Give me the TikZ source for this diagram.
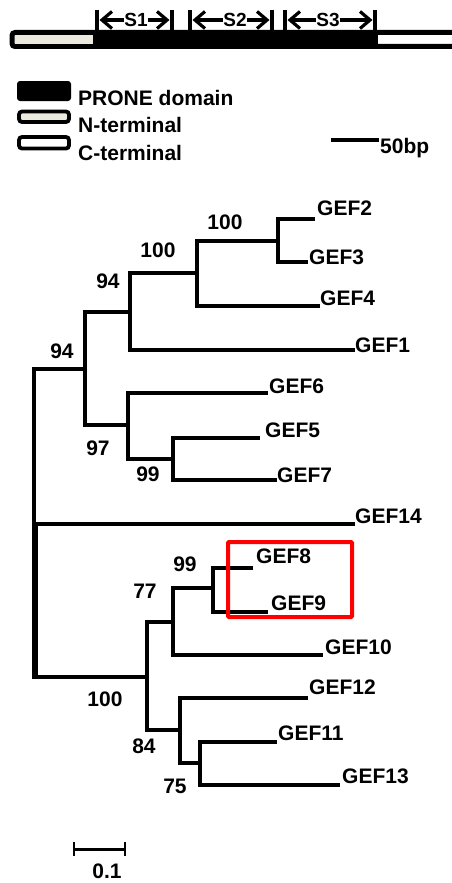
\documentclass[tikz,border=0pt]{standalone}
\usepackage{fontspec}
\setmainfont{Liberation Sans}
\usetikzlibrary{arrows.meta}
\definecolor{beige}{RGB}{236,233,222}
\begin{document}
\begin{tikzpicture}[x=1pt,y=-1pt,
  br/.style={line width=3.8pt},
  lab/.style={font=\fontsize{21}{25}\selectfont\bfseries, anchor=base west, inner sep=0pt},
  boot/.style={font=\fontsize{21}{25}\selectfont\bfseries, anchor=base, inner sep=0pt},
  seglab/.style={font=\fontsize{19}{22}\selectfont\bfseries, inner sep=0pt},
  segarr/.style={line width=3.2pt, -{Straight Barb[length=10pt,width=17pt]}},
  tick/.style={line width=4pt},
  legbox/.style={draw=black, line width=3.8pt, rounded corners=3pt}]
\useasboundingbox (0,0) rectangle (452,883);

% ---------- top domain bar ----------
\draw[line width=5pt, rounded corners=3pt, fill=white] (12,32.5) rectangle (475,46.5);
\fill[beige] (14.5,35) rectangle (93,44);
\fill[black] (93,30) rectangle (378,49);
\foreach \x/\n in {97/a,172/b,190/c,272/d,285/e,375/f}{
  \coordinate (v\n top) at (\x,10);
  \coordinate (v\n bot) at (\x,31);
  \draw[tick] (v\n top) -- (v\n bot);
}
\node[seglab] (S1) at (136,20) {S1};
\node[seglab] (S2) at (235,20) {S2};
\node[seglab] (S3) at (328,20) {S3};
\coordinate (a1l) at (99.5,20); \coordinate (a1r) at (169.5,20);
\coordinate (a2l) at (192.5,20); \coordinate (a2r) at (269.5,20);
\coordinate (a3l) at (287.5,20); \coordinate (a3r) at (372.5,20);
\draw[segarr] (S1.west) -- (a1l); \draw[segarr] (S1.east) -- (a1r);
\draw[segarr] (S2.west) -- (a2l); \draw[segarr] (S2.east) -- (a2r);
\draw[segarr] (S3.west) -- (a3l); \draw[segarr] (S3.east) -- (a3r);

% ---------- legend ----------
\fill[black, rounded corners=3pt] (17,81) rectangle (71,101);
\draw[legbox, fill=beige] (19,111.5) rectangle (69,122);
\draw[legbox, fill=white] (19,137) rectangle (69,148.5);
\node[lab] (lp) at (78,105) {PRONE domain};
\node[lab] (ln) at (78,132) {N-terminal};
\node[lab] (lc) at (78,160) {C-terminal};
\coordinate (bp1) at (331,140); \coordinate (bp2) at (379,140);
\draw[line width=4.5pt] (bp1) -- (bp2);
\node[lab] (bp) at (380,153) {50bp};

% ---------- tree coordinates ----------
\coordinate (root) at (34,524);
\coordinate (nD) at (85,369);
\coordinate (nC) at (130,312);
\coordinate (nB) at (197,273);
\coordinate (nA) at (278,241);
\coordinate (nE) at (128,425);
\coordinate (nF) at (173,459);
\coordinate (nG) at (147,677);
\coordinate (nH) at (173,622);
\coordinate (nJ) at (213,588);
\coordinate (nI) at (180,730);
\coordinate (nK) at (200,763);
\coordinate (t2) at (315,219);
\coordinate (t3) at (308,262);
\coordinate (t4) at (320,306);
\coordinate (t1) at (355,350);
\coordinate (t6) at (268,393);
\coordinate (t5) at (260,438);
\coordinate (t7) at (277,480);
\coordinate (t14) at (355,524);
\coordinate (t8) at (253,568);
\coordinate (t9) at (268,612);
\coordinate (t10) at (323,655);
\coordinate (t12) at (308,698);
\coordinate (t11) at (277,742);
\coordinate (t13) at (340,785);

% ---------- tree branches ----------
\draw[br] (root) |- (nD);
\draw[br] (root) -- (t14);
\draw[line width=5.5pt] (35,522) -- (35,677);
\draw[br] (root) |- (nG);
\draw[br] (nD) |- (nC);
\draw[br] (nD) |- (nE);
\draw[br] (nC) |- (nB);
\draw[br] (nC) |- (t1);
\draw[br] (nB) |- (nA);
\draw[br] (nB) |- (t4);
\draw[br] (nA) |- (t2);
\draw[br] (nA) |- (t3);
\draw[br] (nE) |- (t6);
\draw[br] (nE) |- (nF);
\draw[br] (nF) |- (t5);
\draw[br] (nF) |- (t7);
\draw[br] (nG) |- (nH);
\draw[br] (nG) |- (nI);
\draw[br] (nH) |- (nJ);
\draw[br] (nH) |- (t10);
\draw[br] (nJ) |- (t8);
\draw[br] (nJ) |- (t9);
\draw[br] (nI) |- (t12);
\draw[br] (nI) |- (nK);
\draw[br] (nK) |- (t11);
\draw[br] (nK) |- (t13);

% ---------- tip labels ----------
\node[lab] (L2) at (317,215) {GEF2};
\node[lab] (L3) at (309,264) {GEF3};
\node[lab] (L4) at (320,305) {GEF4};
\node[lab] (L1) at (355,352) {GEF1};
\node[lab] (L6) at (269,393) {GEF6};
\node[lab] (L5) at (265,437) {GEF5};
\node[lab] (L7) at (277,482) {GEF7};
\node[lab] (L14) at (355,523) {GEF14};
\node[lab] (L8) at (256,563) {GEF8};
\node[lab] (L9) at (271,610) {GEF9};
\node[lab] (L10) at (325,654) {GEF10};
\node[lab] (L12) at (309,694) {GEF12};
\node[lab] (L11) at (278,740) {GEF11};
\node[lab] (L13) at (342,783) {GEF13};

% ---------- bootstrap values ----------
\node[boot] (b1) at (225,229) {100};
\node[boot] (b2) at (158,257) {100};
\node[boot] (b3) at (108,288) {94};
\node[boot] (b4) at (62,358) {94};
\node[boot] (b5) at (98,455) {97};
\node[boot] (b6) at (148,481) {99};
\node[boot] (b7) at (185,571) {99};
\node[boot] (b8) at (145,598) {77};
\node[boot] (b9) at (105,706) {100};
\node[boot] (b10) at (144,753) {84};
\node[boot] (b11) at (175,793) {75};

% ---------- highlight box ----------
\node[draw=red, line width=4pt, rounded corners=1pt, minimum width=124pt, minimum height=75pt, inner sep=0pt] (hl) at (290,579.5) {};

% ---------- scale bar ----------
\coordinate (sc1) at (74,849); \coordinate (sc2) at (125,849);
\draw[line width=3pt] (sc1) -- (sc2);
\draw[line width=2.5pt] ([yshift=-7pt]sc1) -- ([yshift=7pt]sc1);
\draw[line width=2.5pt] ([yshift=-7pt]sc2) -- ([yshift=7pt]sc2);
\node[boot] (sclab) at (107,878) {0.1};
\end{tikzpicture}
\end{document}
